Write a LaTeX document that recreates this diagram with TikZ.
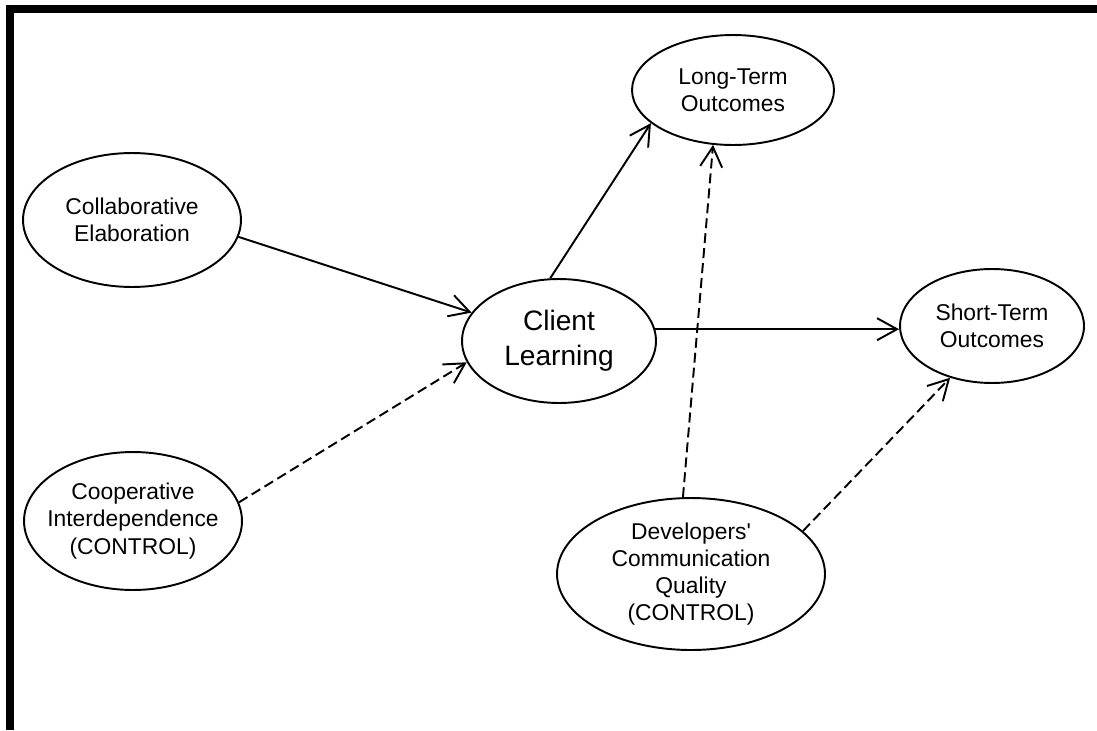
\documentclass[tikz,border=0pt]{standalone}
\usepackage{fontspec}
\setmainfont{Liberation Sans}
\usetikzlibrary{shapes.geometric,arrows.meta}

\begin{document}
\begin{tikzpicture}[x=0.02cm, y=-0.02cm,
        var/.style={ellipse, draw, line width=1.1pt, inner sep=0pt, align=center, font=\fontsize{13}{15.5}\selectfont},
        arrow/.style={->, >={Straight Barb[length=4mm, width=4.4mm]}, line width=1.1pt},
        ctrl/.style={arrow, dash pattern=on 0.2cm off 0.1cm}
    ]
        \useasboundingbox (0,0) rectangle (1097,730);
        % frame (top and left only)
        \fill (6,5) rectangle (1097,13);
        \fill (6,5) rectangle (14,730);

        \node[var, minimum width=4.36cm, minimum height=2.68cm] (collab) at (132,220) {Collaborative\\Elaboration};
        \node[var, minimum width=4.36cm, minimum height=2.76cm, inner xsep=-0.3cm] (coop) at (133,521) {Cooperative\\Interdependence\\(CONTROL)};
        \node[var, minimum width=3.88cm, minimum height=2.48cm, font=\fontsize{16}{20}\selectfont] (client) at (559,341) {Client\\Learning};
        \node[var, minimum width=4.04cm, minimum height=2.2cm] (longterm) at (733,90) {Long-Term\\Outcomes};
        \node[var, minimum width=3.68cm, minimum height=2.28cm] (shortterm) at (992,326) {Short-Term\\Outcomes};
        \node[var, minimum width=5.36cm, minimum height=3.04cm] (devq) at (691,574) {Developers\textquotesingle\\Communication\\Quality\\(CONTROL)};

        \draw[arrow] (collab.351) -- (client.162);
        \draw[ctrl] (coop.10) -- (client.193);
        \draw[arrow] (client.98) -- (longterm.202);
        \draw[arrow] (client.7) -- (client.7 -| shortterm.west);
        \draw[ctrl] (devq.96) -- (longterm.250);
        \draw[ctrl] (devq.21) -- (shortterm.231);
    \end{tikzpicture}
\end{document}
